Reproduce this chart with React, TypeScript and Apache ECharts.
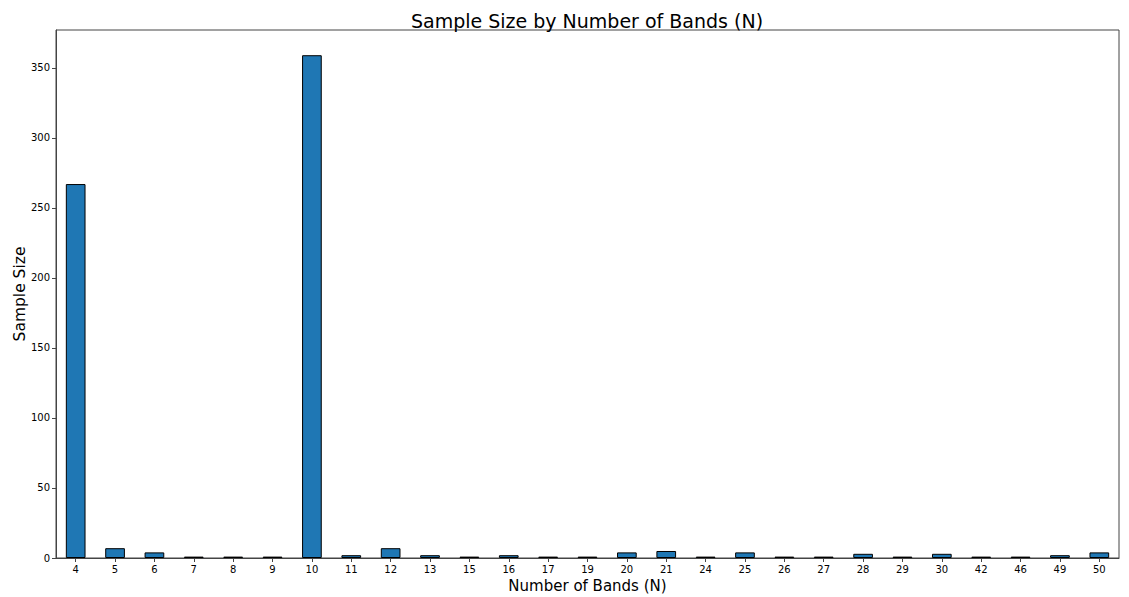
import React, { useEffect, useRef } from "react";
import * as echarts from "echarts";

const categories = ["4","5","6","7","8","9","10","11","12","13","15","16","17","19","20","21","24","25","26","27","28","29","30","42","46","49","50"];
const sampleSizes = [267,7,4,1,1,1,359,2,7,2,1,2,1,1,4,5,1,4,1,1,3,1,3,1,1,2,4];
const yTicks = { min: 0, max: 377, interval: 50 };

export default function App() {
  const ref = useRef<HTMLDivElement>(null);
  useEffect(() => {
    const chart = echarts.init(ref.current!, null, { renderer: "svg" });
    const font = "DejaVu Sans";
    chart.setOption({
      animation: false,
      backgroundColor: "#ffffff",
      textStyle: { fontFamily: font },
      title: {
        text: "Sample Size by Number of Bands (N)",
        left: 582,
        top: 6,
        textAlign: "center",
        textStyle: { fontFamily: font, fontSize: 19, fontWeight: "normal", color: "#000" },
      },
      grid: {
        left: 56, right: 10, top: 30, bottom: 39,
        show: true, borderColor: "#444", borderWidth: 1, containLabel: false,
        outerBoundsMode: "none",
      },
      xAxis: {
        type: "category",
        data: categories,
        name: "Number of Bands (N)",
        nameLocation: "middle",
        nameGap: 19,
        nameTextStyle: { fontFamily: font, fontSize: 15, color: "#000" },
        axisLine: { show: true, lineStyle: { color: "#444" } },
        axisTick: { show: true, alignWithLabel: true, length: 4, lineStyle: { color: "#444" } },
        axisLabel: { fontFamily: font, fontSize: 10, color: "#000", margin: 6, interval: 0 },
      },
      yAxis: {
        type: "value",
        min: yTicks.min,
        max: yTicks.max,
        interval: yTicks.interval,
        name: "Sample Size",
        nameLocation: "middle",
        nameGap: 28,
        nameMoveOverlap: false,
        nameTextStyle: { fontFamily: font, fontSize: 15.5, color: "#000" },
        splitLine: { show: false },
        axisLine: { show: true, lineStyle: { color: "#444" } },
        axisTick: { show: true, length: 4, lineStyle: { color: "#444" } },
        axisLabel: {
          fontFamily: font, fontSize: 10, color: "#000", margin: 6,
          showMaxLabel: false,
        },
      },
      series: [
        {
          type: "bar",
          data: sampleSizes,
          barWidth: "50%",
          itemStyle: { color: "#1f77b4", borderColor: "#000", borderWidth: 1 },
        },
      ],
    });
    return () => chart.dispose();
  }, []);
  return (
    <div
      ref={ref}
      style={{ position: "fixed", left: 0, top: 0, width: 1129, height: 597 }}
    />
  );
}
